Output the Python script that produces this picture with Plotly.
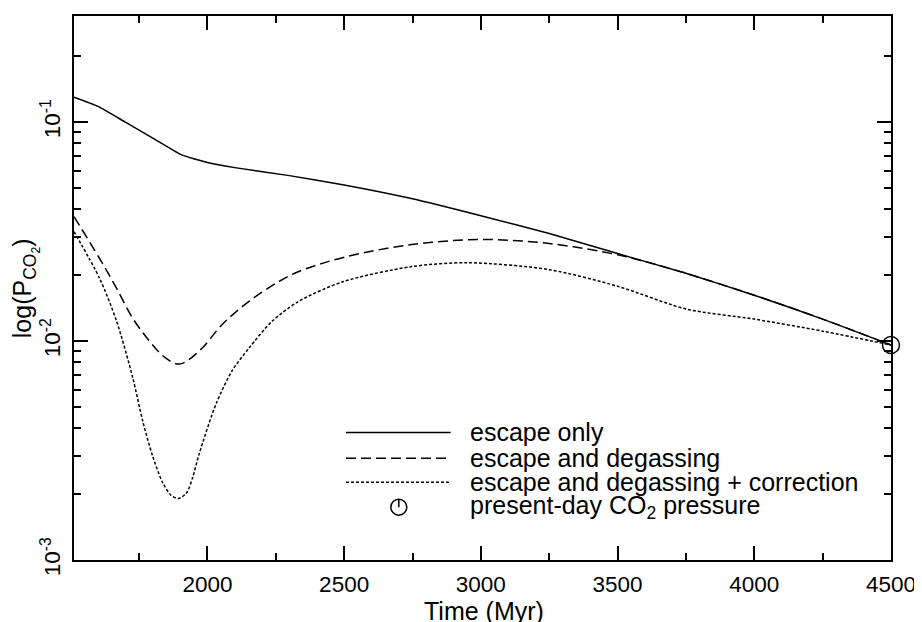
import plotly.graph_objects as go

# ---- data ----
time_escape = [1512, 1600, 1700, 1800, 1900, 1950, 2000, 2100, 2300, 2500, 2750,
               3000, 3250, 3500, 3750, 4000, 4250, 4500]
p_escape = [0.130, 0.118, 0.100, 0.0846, 0.0715, 0.068, 0.0655, 0.062, 0.057, 0.0517,
            0.0447, 0.0374, 0.031, 0.0251, 0.0204, 0.0162, 0.0126, 0.0096]

time_degas = [1512, 1606, 1668, 1727, 1788, 1843, 1897, 1970, 2054, 2152, 2261, 2334,
              2497, 2748, 3000, 3250, 3500, 3600, 3750, 4000, 4250, 4500]
p_degas = [0.037, 0.0238, 0.0174, 0.0127, 0.0100, 0.00845, 0.00785, 0.00901, 0.0119,
           0.0152, 0.0187, 0.0208, 0.0241, 0.0276, 0.0291, 0.0279, 0.0248, 0.0231,
           0.0204, 0.0162, 0.0126, 0.0096]

time_corr = [1512, 1606, 1668, 1727, 1763, 1799, 1836, 1868, 1894, 1923, 1945, 1970,
             2032, 2090, 2152, 2236, 2334, 2497, 2748, 2952, 3250, 3500, 3752, 4000,
             4250, 4500]
p_corr = [0.0316, 0.0193, 0.0123, 0.00679, 0.00433, 0.0030, 0.00226, 0.00197, 0.00191,
          0.00202, 0.00236, 0.00306, 0.00518, 0.00731, 0.00929, 0.0123, 0.0152, 0.0187,
          0.0219, 0.0228, 0.0212, 0.0178, 0.0140, 0.0126, 0.0111, 0.0096]

present_time = [4500]
present_p = [0.0096]

x_major = [2000, 2500, 3000, 3500, 4000, 4500]
x_minor = [1750, 2250, 2750, 3250, 3750, 4250]
y_major = [0.001, 0.01, 0.1]
y_major_text = ["10<sup>-3</sup>", "10<sup>-2</sup>", "10<sup>-1</sup>"]
y_minor = [m * d for d in (0.001, 0.01, 0.1) for m in range(2, 10) if m * d < 0.29]

legend_labels = ["escape only", "escape and degassing",
                 "escape and degassing + correction", "present-day CO<sub>2</sub> pressure"]
x_title = "Time (Myr)"
y_title = "log(P<sub>CO<sub>2</sub></sub>)"

# ---- layout geometry (page body adds an 8px offset) ----
OFF = 8
W, H = 922 - OFF, 622 - OFF
ML, MR, MT, MB = 74 - OFF, 28, 14 - OFF, 62
PW, PH = W - ML - MR, H - MT - MB
FONT = "Liberation Sans, Arial, Helvetica, sans-serif"
FS_TICK = 22.5
FS_TEXT = 25


def px(xp):
    # screen x pixel -> paper coordinate
    return (xp - OFF - ML) / PW


def py(yp):
    # screen y pixel -> paper coordinate
    return (H - MB - (yp - OFF)) / PH


fig = go.Figure()
line_w = 1.5
fig.add_trace(go.Scatter(x=time_escape, y=p_escape, mode="lines", line_shape="spline",
                         line=dict(color="black", width=line_w, smoothing=0.5),
                         showlegend=False))
fig.add_trace(go.Scatter(x=time_degas, y=p_degas, mode="lines", line_shape="spline",
                         line=dict(color="black", width=line_w, dash="10px,5px"),
                         showlegend=False))
fig.add_trace(go.Scatter(x=time_corr, y=p_corr, mode="lines", line_shape="spline",
                         line=dict(color="black", width=line_w, dash="3px,2px",
                                   smoothing=0.8),
                         showlegend=False))
fig.add_trace(go.Scatter(x=present_time, y=present_p, mode="markers", cliponaxis=False,
                         marker=dict(symbol="circle-open", size=17, color="black",
                                     line=dict(color="black", width=line_w)),
                         showlegend=False))

axis_common = dict(showline=True, linecolor="black", linewidth=line_w, mirror="allticks",
                   ticks="inside", tickcolor="black", tickwidth=line_w, ticklen=14,
                   showgrid=False, zeroline=False,
                   tickfont=dict(family=FONT, size=FS_TICK, color="black"))

fig.update_xaxes(range=[1512, 4500], tickmode="array", tickvals=x_major,
                 ticklabelstandoff=3,
                 minor=dict(tickmode="array", tickvals=x_minor, ticks="inside",
                            ticklen=7, tickcolor="black", tickwidth=line_w, showgrid=False),
                 **axis_common)
fig.update_yaxes(type="log", range=[-3, -0.515], tickmode="array", tickvals=y_major,
                 ticktext=y_major_text, tickangle=-90, ticklabelstandoff=3,
                 minor=dict(tickmode="array", tickvals=y_minor, ticks="inside",
                            ticklen=7, tickcolor="black", tickwidth=line_w, showgrid=False),
                 **axis_common)

# ---- hand-drawn legend ----
legend_rows = [432, 458, 482, 507]
dashes = ["solid", "10px,5px", "3px,2px"]
for yrow, dash in zip(legend_rows[:3], dashes):
    fig.add_shape(type="line", xref="paper", yref="paper",
                  x0=px(347), x1=px(452), y0=py(yrow), y1=py(yrow),
                  line=dict(color="black", width=line_w, dash=dash))
cx, cy, r = 400, legend_rows[3], 8
fig.add_shape(type="circle", xref="paper", yref="paper",
              x0=px(cx - r), x1=px(cx + r), y0=py(cy + r), y1=py(cy - r),
              line=dict(color="black", width=line_w))
fig.add_shape(type="line", xref="paper", yref="paper",
              x0=px(cx), x1=px(cx), y0=py(cy - r), y1=py(cy),
              line=dict(color="black", width=line_w))
for yrow, label in zip(legend_rows, legend_labels):
    fig.add_annotation(xref="paper", yref="paper", x=px(469), y=py(yrow),
                       xanchor="left", yanchor="middle", text=label, showarrow=False,
                       font=dict(family=FONT, size=FS_TEXT, color="black"))

# axis titles
fig.add_annotation(xref="paper", yref="paper", x=px(486), y=py(611),
                   xanchor="center", yanchor="middle", text=x_title, showarrow=False,
                   font=dict(family=FONT, size=FS_TEXT, color="black"))
fig.add_annotation(xref="paper", yref="paper", x=px(25), y=py(287),
                   xanchor="center", yanchor="middle", text=y_title, textangle=-90,
                   showarrow=False, font=dict(family=FONT, size=FS_TEXT, color="black"))

fig.update_layout(width=W, height=H, margin=dict(l=ML, r=MR, t=MT, b=MB),
                  plot_bgcolor="white", paper_bgcolor="white", showlegend=False,
                  font=dict(family=FONT, size=FS_TICK, color="black"))

fig.write_html("out.html")
